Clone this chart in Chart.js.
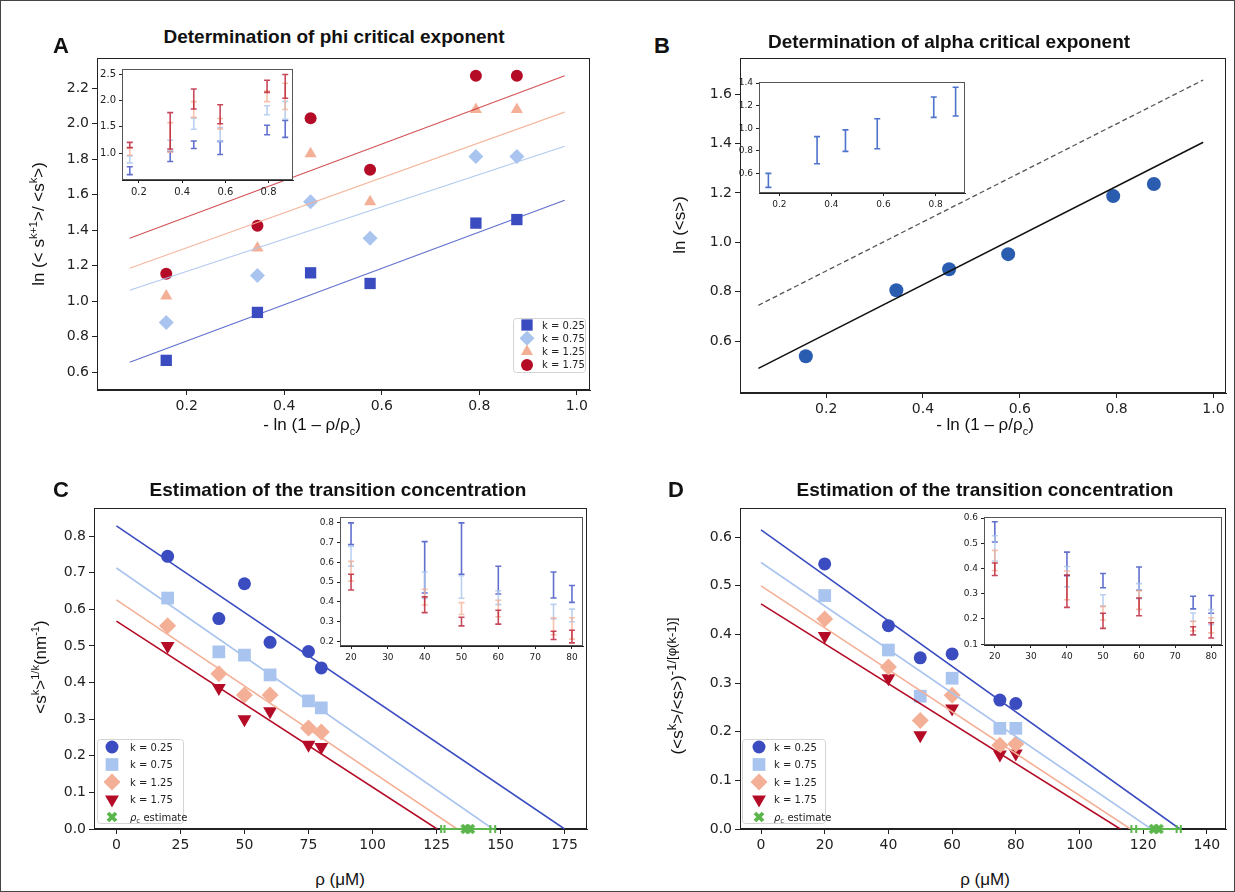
<!DOCTYPE html>
<html>
<head>
<meta charset="utf-8">
<script src="https://cdn.jsdelivr.net/npm/chart.js@4.4.1/dist/chart.umd.min.js"></script>
<style>
  body { margin: 0; width: 1235px; height: 892px; position: relative; background: #fff; overflow: hidden;
         font-family: "Liberation Sans", Arial, sans-serif; color: #111; }
  canvas { position: absolute; }
  .t { position: absolute; white-space: nowrap; transform: translate(-50%, -50%); }
  .title { font-weight: bold; font-size: 19px; }
  .letter { font-weight: bold; font-size: 22px; }
  .ax { font-size: 17px; }
  .rot { transform: translate(-50%, -50%) rotate(-90deg); }
  sup, sub { font-size: 11px; }
  .big sup { font-size: 13px; }
  #frame { position: absolute; left: 0; top: 0; width: 1233px; height: 890px; border: 1px solid #444; }
</style>
</head>
<body>
<div id="frame"></div>
<canvas id="chartA"></canvas>
<canvas id="chartB"></canvas>
<canvas id="chartC"></canvas>
<canvas id="chartD"></canvas>
<canvas id="insetA"></canvas>
<canvas id="insetB"></canvas>
<canvas id="insetC"></canvas>
<canvas id="insetD"></canvas>

<div class="t letter" style="left:61px;top:46px">A</div>
<div class="t letter" style="left:662px;top:46px">B</div>
<div class="t letter" style="left:61px;top:490px">C</div>
<div class="t letter" style="left:676px;top:490px">D</div>
<div class="t title" style="left:334px;top:37px">Determination of phi critical exponent</div>
<div class="t title" style="left:949px;top:42px">Determination of alpha critical exponent</div>
<div class="t title" style="left:338px;top:490px">Estimation of the transition concentration</div>
<div class="t title" style="left:985px;top:490px">Estimation of the transition concentration</div>
<div class="t ax" style="left:312px;top:426px">- ln (1 &#8211; &rho;/&rho;<sub>c</sub>)</div>
<div class="t ax" style="left:985px;top:426px">- ln (1 &#8211; &rho;/&rho;<sub>c</sub>)</div>
<div class="t ax" style="left:340px;top:880px">&rho; (&mu;M)</div>
<div class="t ax" style="left:985px;top:880px">&rho; (&mu;M)</div>
<div class="t ax rot" style="left:38px;top:224px">ln (&lt; s<sup>k+1</sup>&gt;/ &lt;s<sup>k</sup>&gt;)</div>
<div class="t ax rot" style="left:680px;top:225px">ln (&lt;s&gt;)</div>
<div class="t ax rot" style="left:40px;top:667px">&lt;s<sup>k</sup>&gt;<sup>1/k</sup>(nm<sup>-1</sup>)</div>
<div class="t ax rot big" style="left:676px;top:686px">(&lt;s<sup>k</sup>&gt;/&lt;s&gt;)<sup>-1/[&phi;(k-1)]</sup></div>

<script>
// ---------- panel A / B : x = -ln(1 - rho/rho_c) ----------
const xLog = [0.158, 0.345, 0.454, 0.576, 0.793, 0.877];
const kLabels = ['k = 0.25', 'k = 0.75', 'k = 1.25', 'k = 1.75'];

const phiK025 = [0.667, 0.937, 1.16, 1.10, 1.44, 1.46];
const phiK075 = [0.88, 1.145, 1.56, 1.355, 1.815, 1.815];
const phiK125 = [1.03, 1.30, 1.83, 1.56, 2.08, 2.08];
const phiK175 = [1.155, 1.425, 2.03, 1.74, 2.27, 2.27];
const phiErr025 = [0.075, 0.095, 0.07, 0.125, 0.09, 0.16];
const phiErr075 = [0.065, 0.10, 0.105, 0.13, 0.085, 0.17];
const phiErr125 = [0.07, 0.28, 0.15, 0.10, 0.10, 0.25];
const phiErr175 = [0.05, 0.345, 0.19, 0.18, 0.115, 0.225];

const fitXA = [0.083, 0.975];
const phiFit025 = [0.656, 1.569];
const phiFit075 = [1.062, 1.873];
const phiFit125 = [1.186, 2.065];
const phiFit175 = [1.355, 2.27];

const lnS = [0.539, 0.806, 0.891, 0.952, 1.187, 1.236];
const lnSErr = [0.062, 0.12, 0.095, 0.133, 0.09, 0.127];
const fitXB = [0.06, 0.979];
const alphaFit = [0.49, 1.405];
const alphaRef = [0.745, 1.657];

// ---------- panel C / D : rho (uM) ----------
const rho = [20, 40, 50, 60, 75, 80];
const concK025 = [0.745, 0.575, 0.67, 0.51, 0.485, 0.44];
const concK075 = [0.631, 0.484, 0.475, 0.421, 0.35, 0.331];
const concK125 = [0.555, 0.424, 0.366, 0.366, 0.276, 0.265];
const concK175 = [0.50, 0.385, 0.30, 0.322, 0.23, 0.224];
const concErr025 = [0.055, 0.13, 0.13, 0.07, 0.066, 0.043];
const concErr075 = [0.05, 0.067, 0.057, 0.035, 0.037, 0.032];
const concErr125 = [0.05, 0.04, 0.03, 0.042, 0.043, 0.054];
const concErr175 = [0.04, 0.04, 0.022, 0.035, 0.021, 0.032];
const concFitStart = [0.828, 0.713, 0.626, 0.568];
const concFitEnd = [175, 147, 133, 125.2];
const concRhoC = [136.4, 138.0];
const concRhoCErr = [9.6, 9.9];

const ratK025 = [0.545, 0.418, 0.352, 0.36, 0.265, 0.258];
const ratK075 = [0.48, 0.368, 0.273, 0.31, 0.207, 0.207];
const ratK125 = [0.432, 0.333, 0.223, 0.275, 0.172, 0.175];
const ratK175 = [0.397, 0.31, 0.193, 0.248, 0.153, 0.155];
const ratErr025 = [0.04, 0.047, 0.028, 0.046, 0.025, 0.035];
const ratErr075 = [0.05, 0.04, 0.023, 0.03, 0.017, 0.03];
const ratErr125 = [0.04, 0.057, 0.027, 0.037, 0.019, 0.03];
const ratErr175 = [0.025, 0.064, 0.03, 0.035, 0.016, 0.03];
const ratFitStart = [0.615, 0.548, 0.50, 0.463];
const ratFitEnd = [131.5, 122.5, 116, 112.8];
const ratRhoC = [123.4, 124.8];
const ratRhoCErr = [7.1, 7.0];

// ---------- ticks ----------
const ticksLogX = [0.2, 0.4, 0.6, 0.8, 1.0];
const ticksPhiY = [0.6, 0.8, 1.0, 1.2, 1.4, 1.6, 1.8, 2.0, 2.2];
const ticksAlphaY = [0.6, 0.8, 1.0, 1.2, 1.4, 1.6];
const ticksInsetLogX = [0.2, 0.4, 0.6, 0.8];
const ticksInsetPhiY = [1.0, 1.5, 2.0, 2.5];
const ticksInsetAlphaY = [0.6, 0.8, 1.0, 1.2, 1.4];
const ticksConcX = [0, 25, 50, 75, 100, 125, 150, 175];
const ticksConcY = [0, 0.1, 0.2, 0.3, 0.4, 0.5, 0.6, 0.7, 0.8];
const ticksRatX = [0, 20, 40, 60, 80, 100, 120, 140];
const ticksRatY = [0, 0.1, 0.2, 0.3, 0.4, 0.5, 0.6];
const ticksInsetRhoX = [20, 30, 40, 50, 60, 70, 80];
const ticksInsetConcY = [0.2, 0.3, 0.4, 0.5, 0.6, 0.7, 0.8];
const ticksInsetRatY = [0.1, 0.2, 0.3, 0.4, 0.5, 0.6];

// coolwarm-like colours
const kColors = ['#3b4cc0', '#a9c4ee', '#f4b096', '#b40c26'];
const kLineColors = ['rgba(59,76,192,0.8)', 'rgba(169,196,238,0.9)', 'rgba(244,176,150,0.9)', 'rgba(200,40,45,0.8)'];
const kBarColors = ['rgba(59,76,192,0.8)', 'rgba(169,196,238,0.8)', 'rgba(244,166,136,0.7)', 'rgba(180,12,38,0.75)'];
const green = '#5ab54b';

const pts = (xs, ys) => xs.map((x, i) => ({ x: x, y: ys[i] }));

function thickX(color, s) {
    const c = document.createElement('canvas');
    c.width = c.height = s;
    const g = c.getContext('2d');
    g.strokeStyle = color; g.lineWidth = s * 0.32;
    g.beginPath();
    g.moveTo(2, 2); g.lineTo(s - 2, s - 2);
    g.moveTo(s - 2, 2); g.lineTo(2, s - 2);
    g.stroke();
    return c;
}
const xMarker = thickX(green, 12);

// error bars (vertical yErr, horizontal xErr) drawn through the scales
const errorBars = {
    id: 'errorBars',
    afterDatasetsDraw(chart) {
        const ctx = chart.ctx, xs = chart.scales.x, ys = chart.scales.y;
        chart.data.datasets.forEach(ds => {
            if (!ds.yErr && !ds.xErr) return;
            ctx.save();
            ctx.strokeStyle = ds.errColor;
            ctx.lineWidth = ds.errWidth || 1.5;
            const cap = ds.capHalf || 3;
            ds.data.forEach((p, j) => {
                const px = xs.getPixelForValue(p.x), py = ys.getPixelForValue(p.y);
                ctx.beginPath();
                if (ds.yErr) {
                    const a = ys.getPixelForValue(p.y - ds.yErr[j]), b = ys.getPixelForValue(p.y + ds.yErr[j]);
                    ctx.moveTo(px, a); ctx.lineTo(px, b);
                    ctx.moveTo(px - cap, a); ctx.lineTo(px + cap, a);
                    ctx.moveTo(px - cap, b); ctx.lineTo(px + cap, b);
                } else {
                    const a = xs.getPixelForValue(p.x - ds.xErr[j]), b = xs.getPixelForValue(p.x + ds.xErr[j]);
                    ctx.moveTo(a, py); ctx.lineTo(b, py);
                    ctx.moveTo(a, py - cap); ctx.lineTo(a, py + cap);
                    ctx.moveTo(b, py - cap); ctx.lineTo(b, py + cap);
                }
                ctx.stroke();
            });
            ctx.restore();
        });
    }
};

// box round plot area + white fill for the insets
const frameBox = {
    id: 'frameBox',
    beforeDatasetsDraw(chart, args, o) {
        const a = chart.chartArea, ctx = chart.ctx;
        ctx.save();
        ctx.strokeStyle = o.color || '#222';
        ctx.lineWidth = 1;
        ctx.strokeRect(a.left + 0.5, a.top + 0.5, a.right - a.left - 1, a.bottom - a.top - 1);
        ctx.restore();
    },
    beforeDraw(chart, args, o) {
        if (!o.fill) return;
        const a = chart.chartArea;
        chart.ctx.save();
        chart.ctx.fillStyle = '#fff';
        chart.ctx.fillRect(a.left, a.top, a.right - a.left, a.bottom - a.top);
        chart.ctx.restore();
    }
};

// legend box placed inside the plot area
const boxLegend = {
    id: 'boxLegend',
    afterDraw(chart, args, o) {
        if (!o || o.x === undefined) return;
        const ctx = chart.ctx, a = chart.chartArea;
        const items = chart.data.datasets.filter(d => d.inLegend);
        const x = a.left + o.x, y = a.top + o.y;
        ctx.save();
        ctx.fillStyle = 'rgba(255,255,255,0.85)';
        ctx.strokeStyle = '#d4d4d4';
        ctx.lineWidth = 1;
        ctx.beginPath();
        ctx.roundRect(x + 0.5, y + 0.5, o.w, o.h, 3);
        ctx.fill(); ctx.stroke();
        ctx.textBaseline = 'middle';
        items.forEach((d, i) => {
            const cy = y + o.first + i * o.row;
            ctx.fillStyle = d.backgroundColor;
            ctx.strokeStyle = d.borderColor;
            Chart.helpers.drawPoint(ctx, {
                pointStyle: d.pointStyle, rotation: d.rotation || 0,
                radius: d.legendRadius || d.pointRadius, borderWidth: 0
            }, x + o.mx, cy);
            ctx.fillStyle = '#222';
            ctx.font = o.font;
            if (d.labelParts) {
                // rho with subscript c, then the rest
                let tx = x + o.tx;
                ctx.font = 'italic ' + o.font;
                ctx.fillText(d.labelParts[0], tx, cy + 1);
                tx += ctx.measureText(d.labelParts[0]).width;
                ctx.font = o.subFont;
                ctx.fillText(d.labelParts[1], tx, cy + 4);
                tx += ctx.measureText(d.labelParts[1]).width;
                ctx.font = o.font;
                ctx.fillText(d.labelParts[2], tx, cy + 1);
            } else {
                ctx.fillText(d.label, x + o.tx, cy + 1);
            }
        });
        ctx.restore();
    }
};

Chart.register(errorBars, frameBox, boxLegend);

function axis(min, max, ticks, dec, size, fit, isY) {
    return {
        type: 'linear', min: min, max: max,
        afterBuildTicks: s => { s.ticks = ticks.map(v => ({ value: v })); },
        afterFit: s => {
            if (isY) s.width = fit; else s.height = fit;
            // keep the plot area exactly where the layout puts it
            s.paddingTop = s.paddingBottom = s.paddingLeft = s.paddingRight = 0;
        },
        ticks: {
            callback: v => v.toFixed(dec), color: '#222', padding: 3, maxRotation: 0, autoSkip: false,
            font: { family: 'DejaVu Sans', size: size }
        },
        grid: { drawOnChartArea: false, drawTicks: true, tickLength: size > 11 ? 5 : 3, color: '#222' },
        border: { display: true, color: '#222' }
    };
}

function place(id, f, pad) {
    const c = document.getElementById(id);
    c.width = f.r - f.l + pad.l + pad.r;
    c.height = f.b - f.t + pad.t + pad.b;
    c.style.left = (f.l - pad.l) + 'px';
    c.style.top = (f.t - pad.t) + 'px';
    return c;
}

function makeChart(id, f, pad, datasets, xs, ys, extra) {
    const c = place(id, f, pad);
    return new Chart(c, {
        type: 'scatter',
        data: { datasets: datasets },
        options: {
            responsive: false, animation: false, events: [],
            layout: { padding: { top: pad.t, right: pad.r, left: 0, bottom: 0 } },
            scales: { x: xs, y: ys },
            plugins: Object.assign({ legend: { display: false }, tooltip: { enabled: false } }, extra.plugins)
        }
    });
}

function fitLine(x, y, color, width, dash) {
    return { data: pts(x, y), showLine: true, pointRadius: 0, borderColor: color, borderWidth: width, borderDash: dash || [] };
}
function marks(x, y, label, color, style, r, rot) {
    return { label: label, inLegend: true, data: pts(x, y), pointStyle: style, pointRadius: r, rotation: rot || 0,
             backgroundColor: color, borderColor: color, pointBorderWidth: 0 };
}
function bars(x, y, err, color, cap) {
    return { data: pts(x, y), yErr: err, errColor: color, pointRadius: 0, capHalf: cap, errWidth: 1.6 };
}
function rhoC(x, err) {
    return { label: '\u03c1c estimate', labelParts: ['\u03c1', 'c', ' estimate'], inLegend: true,
             data: x.map(v => ({ x: v, y: 0 })), xErr: err, errColor: green,
             errWidth: 2, capHalf: 4, pointStyle: xMarker, pointRadius: 6, legendRadius: 6,
             backgroundColor: green, borderColor: green, clip: false };
}

const mainPad = { l: 60, t: 10, r: 10, b: 40 };
const insetPad = { l: 28, t: 6, r: 4, b: 18 };
const legendFont = { font: '10px "DejaVu Sans"', subFont: '7px "DejaVu Sans"' };

// ---------------- A ----------------
const phiSeries = [phiK025, phiK075, phiK125, phiK175];
const phiFits = [phiFit025, phiFit075, phiFit125, phiFit175];
const phiErrs = [phiErr025, phiErr075, phiErr125, phiErr175];
const stylesA = [['rect', 8, 0], ['rectRot', 7.5, 0], ['triangle', 7, 0], ['circle', 6, 0]];
makeChart('chartA', { l: 97, t: 58, r: 590, b: 390 }, mainPad,
    phiFits.map((y, i) => fitLine(fitXA, y, kLineColors[i], 1.2))
        .concat(phiSeries.map((y, i) => marks(xLog, y, kLabels[i], kColors[i], stylesA[i][0], stylesA[i][1]))),
    axis(0.016, 1.027, ticksLogX, 1, 14, 40, false),
    axis(0.5, 2.37, ticksPhiY, 1, 14, 60, true),
    { plugins: { boxLegend: Object.assign({ x: 416, y: 260, w: 72, h: 54, first: 7, row: 13.3, mx: 14, tx: 29 }, legendFont) } });

makeChart('insetA', { l: 122, t: 69, r: 293, b: 180 }, insetPad,
    phiSeries.map((y, i) => bars(xLog, y, phiErrs[i], kBarColors[i], 3)),
    axis(0.122, 0.913, ticksInsetLogX, 1, 10, 18, false),
    axis(0.49, 2.6, ticksInsetPhiY, 1, 10, 28, true),
    { plugins: { frameBox: { fill: true, color: '#555' } } });

// ---------------- B ----------------
makeChart('chartB', { l: 740, t: 58, r: 1226, b: 393 }, mainPad,
    [fitLine(fitXB, alphaRef, '#555', 1.3, [5, 3]),
     fitLine(fitXB, alphaFit, '#111', 1.5),
     { data: pts(xLog, lnS), pointStyle: 'circle', pointRadius: 7, backgroundColor: '#2a5db0', borderColor: '#2a5db0', pointBorderWidth: 0 }],
    axis(0.022, 1.026, ticksLogX, 1, 14, 40, false),
    axis(0.39, 1.746, ticksAlphaY, 1, 14, 60, true),
    { plugins: {} });

makeChart('insetB', { l: 759, t: 82, r: 965, b: 193 }, insetPad,
    [bars(xLog, lnS, lnSErr, 'rgba(59,100,200,0.9)', 3)],
    axis(0.122, 0.913, ticksInsetLogX, 1, 9, 18, false),
    axis(0.427, 1.41, ticksInsetAlphaY, 1, 9, 28, true),
    { plugins: { frameBox: { fill: true, color: '#555' } } });

// ---------------- C ----------------
const concSeries = [concK025, concK075, concK125, concK175];
const concErrs = [concErr025, concErr075, concErr125, concErr175];
const stylesC = [['circle', 6.5, 0], ['rect', 9, 0], ['rectRot', 8.5, 0], ['triangle', 8, 180]];
makeChart('chartC', { l: 94, t: 508, r: 587, b: 829 }, mainPad,
    concFitStart.map((y0, i) => fitLine([0, concFitEnd[i]], [y0, 0], kColors[i], 1.6))
        .concat(concSeries.map((y, i) => marks(rho, y, kLabels[i], kColors[i], stylesC[i][0], stylesC[i][1], stylesC[i][2])))
        .concat([rhoC(concRhoC, concRhoCErr)]),
    axis(-8.75, 183.75, ticksConcX, 0, 14, 40, false),
    axis(0, 0.877, ticksConcY, 1, 14, 60, true),
    { plugins: { boxLegend: Object.assign({ x: 3, y: 231, w: 86, h: 84, first: 8, row: 17.5, mx: 15, tx: 33 }, legendFont) } });

makeChart('insetC', { l: 340, t: 517, r: 583, b: 646 }, insetPad,
    concSeries.map((y, i) => bars(rho, y, concErrs[i], kBarColors[i], 3)),
    axis(17, 83, ticksInsetRhoX, 0, 9, 18, false),
    axis(0.176, 0.83, ticksInsetConcY, 1, 9, 28, true),
    { plugins: { frameBox: { fill: true, color: '#555' } } });

// ---------------- D ----------------
const ratSeries = [ratK025, ratK075, ratK125, ratK175];
const ratErrs = [ratErr025, ratErr075, ratErr125, ratErr175];
makeChart('chartD', { l: 740, t: 508, r: 1226, b: 829 }, mainPad,
    ratFitStart.map((y0, i) => fitLine([0, ratFitEnd[i]], [y0, 0], kColors[i], 1.6))
        .concat(ratSeries.map((y, i) => marks(rho, y, kLabels[i], kColors[i], stylesC[i][0], stylesC[i][1], stylesC[i][2])))
        .concat([rhoC(ratRhoC, ratRhoCErr)]),
    axis(-6.6, 146, ticksRatX, 0, 14, 40, false),
    axis(0, 0.66, ticksRatY, 1, 14, 60, true),
    { plugins: { boxLegend: Object.assign({ x: 2, y: 231, w: 83, h: 84, first: 8, row: 17.5, mx: 17, tx: 32 }, legendFont) } });

makeChart('insetD', { l: 984, t: 517, r: 1222, b: 645 }, insetPad,
    ratSeries.map((y, i) => bars(rho, y, ratErrs[i], kBarColors[i], 3)),
    axis(17, 83, ticksInsetRhoX, 0, 9, 18, false),
    axis(0.097, 0.604, ticksInsetRatY, 1, 9, 28, true),
    { plugins: { frameBox: { fill: true, color: '#555' } } });
</script>
</body>
</html>
